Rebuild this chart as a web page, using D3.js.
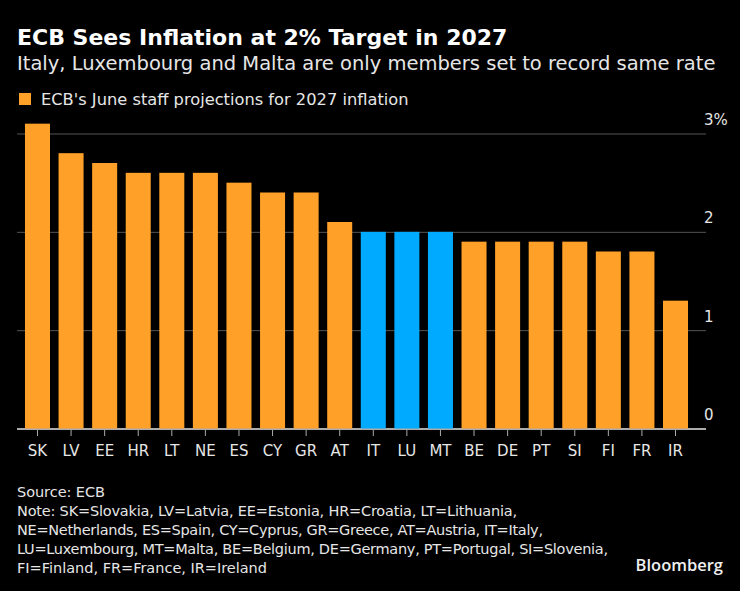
<!DOCTYPE html>
<html>
<head>
<meta charset="utf-8">
<script src="https://cdn.jsdelivr.net/npm/d3@7"></script>
<style>
  html, body { margin: 0; padding: 0; background: #000; }
  text { font-family: "DejaVu Sans", sans-serif; }
</style>
</head>
<body>
<div id="chart"></div>
<script>
// values
const countries = ["SK", "LV", "EE", "HR", "LT", "NE", "ES", "CY", "GR", "AT", "IT", "LU", "MT", "BE", "DE", "PT", "SI", "FI", "FR", "IR"];
const inflation = [3.1, 2.8, 2.7, 2.6, 2.6, 2.6, 2.5, 2.4, 2.4, 2.1, 2, 2, 2, 1.9, 1.9, 1.9, 1.9, 1.8, 1.8, 1.3];
const highlighted = ["IT", "LU", "MT"];
const yTicks = [0, 1, 2, 3];

const title = "ECB Sees Inflation at 2% Target in 2027";
const subtitle = "Italy, Luxembourg and Malta are only members set to record same rate";
const legendLabel = "ECB's June staff projections for 2027 inflation";
const footLines = [
  "Source: ECB",
  "Note: SK=Slovakia, LV=Latvia, EE=Estonia, HR=Croatia, LT=Lithuania,",
  "NE=Netherlands, ES=Spain, CY=Cyprus, GR=Greece, AT=Austria, IT=Italy,",
  "LU=Luxembourg, MT=Malta, BE=Belgium, DE=Germany, PT=Portugal, SI=Slovenia,",
  "FI=Finland, FR=France, IR=Ireland"
];

const width = 740, height = 591;
const orange = "#ffa028", blue = "#00aaff", textColor = "#e6e6e6";

const svg = d3.select("#chart").append("svg")
  .attr("width", width)
  .attr("height", height)
  .style("display", "block")
  .style("background", "#000");

// scales
const x = d3.scaleBand()
  .domain(countries)
  .range([20.7, 692.3])
  .paddingInner(0.255)
  .paddingOuter(0.1275);

const y = d3.scaleLinear()
  .domain([0, 3])
  .range([428.5, 133.5]);

// headings
svg.append("text").attr("x", 17).attr("y", 44.5)
  .attr("font-size", 22).attr("font-weight", "bold").attr("fill", "#fff")
  .text(title);
svg.append("text").attr("x", 17).attr("y", 70)
  .attr("font-size", 19.5).attr("fill", textColor)
  .text(subtitle);

// legend
svg.append("rect").attr("x", 19).attr("y", 93).attr("width", 12).attr("height", 12).attr("fill", orange);
svg.append("text").attr("x", 41).attr("y", 105)
  .attr("font-size", 16.25).attr("fill", textColor)
  .text(legendLabel);

// y axis: grid lines with labels sitting above them
const yAxis = svg.append("g")
  .attr("transform", "translate(706,0)")
  .call(d3.axisLeft(y).tickValues(yTicks).tickSize(689).tickFormat(""));
yAxis.select(".domain").remove();
yAxis.selectAll(".tick line")
  .attr("stroke", d => d === 0 ? "#e6e6e6" : "#555")
  .attr("stroke-width", d => d === 0 ? 1.5 : 1);

svg.append("g").selectAll("text")
  .data(yTicks)
  .join("text")
  .attr("x", 704)
  .attr("y", d => y(d) - 8.5)
  .attr("font-size", 15)
  .attr("fill", textColor)
  .text(d => d === 3 ? d + "%" : d);

// bars
svg.append("g").selectAll("rect")
  .data(countries)
  .join("rect")
  .attr("x", d => x(d))
  .attr("width", x.bandwidth())
  .attr("y", (d, i) => y(inflation[i]))
  .attr("height", (d, i) => y(0) - y(inflation[i]))
  .attr("fill", d => highlighted.includes(d) ? blue : orange);

// x axis
const xAxis = svg.append("g")
  .attr("transform", "translate(0,429)")
  .call(d3.axisBottom(x).tickSize(7).tickPadding(9.5));
xAxis.select(".domain").remove();
xAxis.selectAll(".tick line").attr("stroke", "#aaa");
xAxis.selectAll(".tick text")
  .attr("font-family", '"DejaVu Sans", sans-serif')
  .attr("font-size", 15)
  .attr("fill", textColor);

// source and note, the long lines squeezed to the reference's line ends
const footEnds = [105, 517, 543, 608, 267];
svg.append("g").selectAll("text")
  .data(footLines)
  .join("text")
  .attr("x", 17)
  .attr("y", (d, i) => 496.5 + i * 19)
  .attr("font-size", 14.5)
  .attr("textLength", (d, i) => footEnds[i] - 17)
  .attr("lengthAdjust", "spacing")
  .attr("fill", textColor)
  .text(d => d);

svg.append("text").attr("x", 723).attr("y", 571)
  .attr("text-anchor", "end")
  .attr("font-size", 16.5).attr("font-weight", 600)
  .style("font-family", '"Open Sans", sans-serif')
  .attr("fill", "#f0f0f0")
  .text("Bloomberg");
</script>
</body>
</html>
